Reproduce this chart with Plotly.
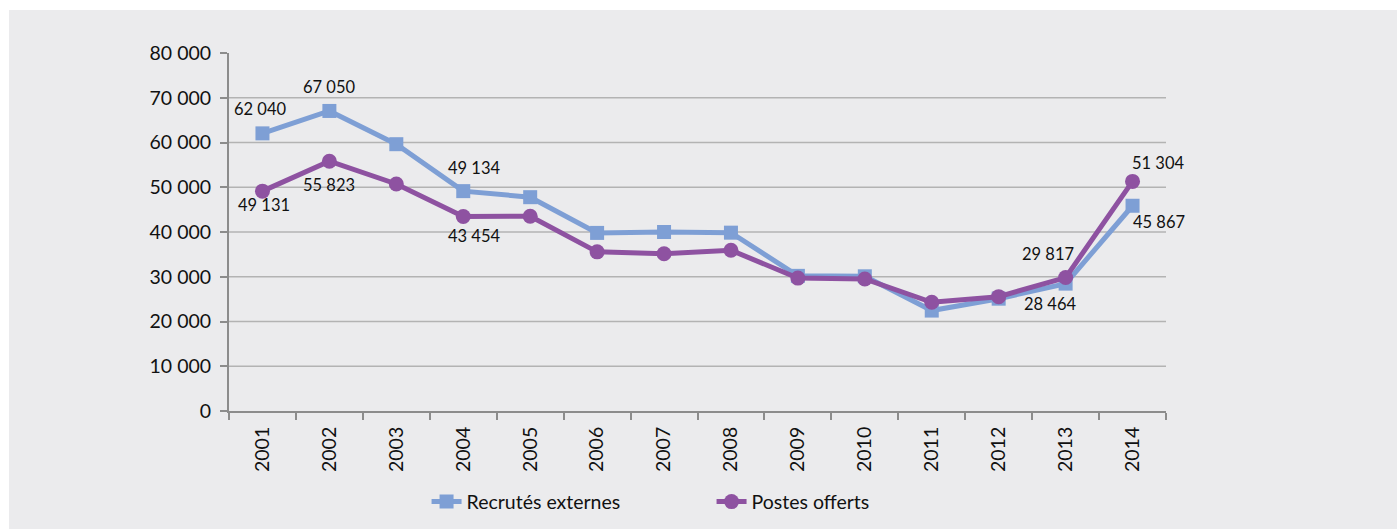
import plotly.graph_objects as go

years = ["2001", "2002", "2003", "2004", "2005", "2006", "2007",
         "2008", "2009", "2010", "2011", "2012", "2013", "2014"]
recrutes = [62040, 67050, 59620, 49134, 47780, 39800, 40000,
            39850, 30200, 30100, 22440, 25100, 28464, 45867]
postes = [49131, 55823, 50730, 43454, 43520, 35560, 35150,
          35930, 29700, 29500, 24300, 25550, 29817, 51304]
y_ticks = [0, 10000, 20000, 30000, 40000, 50000, 60000, 70000, 80000]
y_ticktext = ["0", "10 000", "20 000", "30 000", "40 000", "50 000",
              "60 000", "70 000", "80 000"]
grid_vals = [10000, 20000, 30000, 40000, 50000, 60000, 70000]

# labelled points: (year index, xshift, yshift)
labels_recrutes = [(0, -2, 24), (1, 0, 24), (3, 11, 23), (12, -15, -20), (13, 26, -16)]
labels_postes = [(0, 2, -14), (1, 0, -24), (3, 11, -19), (12, -18, 24), (13, 26, 18)]

BLUE = "#7e9fd5"
PURPLE = "#8e52a1"
FONT = "Lato"


def fmt(v):
    return f"{v:,}".replace(",", " ")


fig = go.Figure()
fig.add_trace(go.Scatter(
    x=years, y=recrutes, name="Recrutés externes", mode="lines+markers",
    line=dict(color=BLUE, width=5),
    marker=dict(symbol="square", size=14, color=BLUE),
))
fig.add_trace(go.Scatter(
    x=years, y=postes, name="Postes offerts", mode="lines+markers",
    line=dict(color=PURPLE, width=5),
    marker=dict(symbol="circle", size=15, color=PURPLE),
))

annotations = []
for series, lab in ((recrutes, labels_recrutes), (postes, labels_postes)):
    for i, dx, dy in lab:
        annotations.append(dict(
            x=i, y=series[i], xref="x", yref="y", text=fmt(series[i]),
            showarrow=False, xshift=dx, yshift=dy,
            font=dict(family=FONT, size=16.5, color="#111111"),
        ))

shapes = [dict(type="rect", xref="paper", yref="paper",
               x0=-0.2348, x1=1.2475, y0=-0.34, y1=1.1201,
               fillcolor="#ebebed", line=dict(width=0), layer="below")]
for g in grid_vals:
    shapes.append(dict(type="line", xref="paper", yref="y", x0=0, x1=1,
                       y0=g, y1=g, line=dict(color="#b3b3b3", width=1.5),
                       layer="below"))

fig.update_layout(
    width=1397, height=529,
    margin=dict(l=229, r=231, t=53, b=118, autoexpand=False),
    paper_bgcolor="white",
    plot_bgcolor="rgba(0,0,0,0)",
    font=dict(family=FONT, size=19, color="#111111"),
    shapes=shapes,
    annotations=annotations,
    showlegend=True,
    legend=dict(orientation="h", x=0.515, xanchor="center", y=-0.254,
                yanchor="middle", font=dict(family=FONT, size=19.5),
                bgcolor="rgba(0,0,0,0)", entrywidth=240, entrywidthmode="pixels",
                tracegroupgap=0),
)
fig.update_xaxes(
    type="category", tickson="boundaries", ticks="outside", ticklen=7,
    tickcolor="#8c8c8c", tickwidth=1.5,
    showline=True, linecolor="#8c8c8c", linewidth=2,
    showgrid=False, tickangle=-90, tickfont=dict(family=FONT, size=19.5),
    ticklabelstandoff=6, automargin=False,
    range=[-0.5, 13.5],
)
fig.update_yaxes(
    range=[0, 80000], tickvals=y_ticks, ticktext=y_ticktext,
    ticks="outside", ticklen=7, tickcolor="#8c8c8c", tickwidth=1.5,
    showline=True, linecolor="#8c8c8c", linewidth=2,
    showgrid=False, zeroline=False, tickfont=dict(family=FONT, size=19.5),
    ticklabelstandoff=5, automargin=False,
)

fig.write_html("out.html")
